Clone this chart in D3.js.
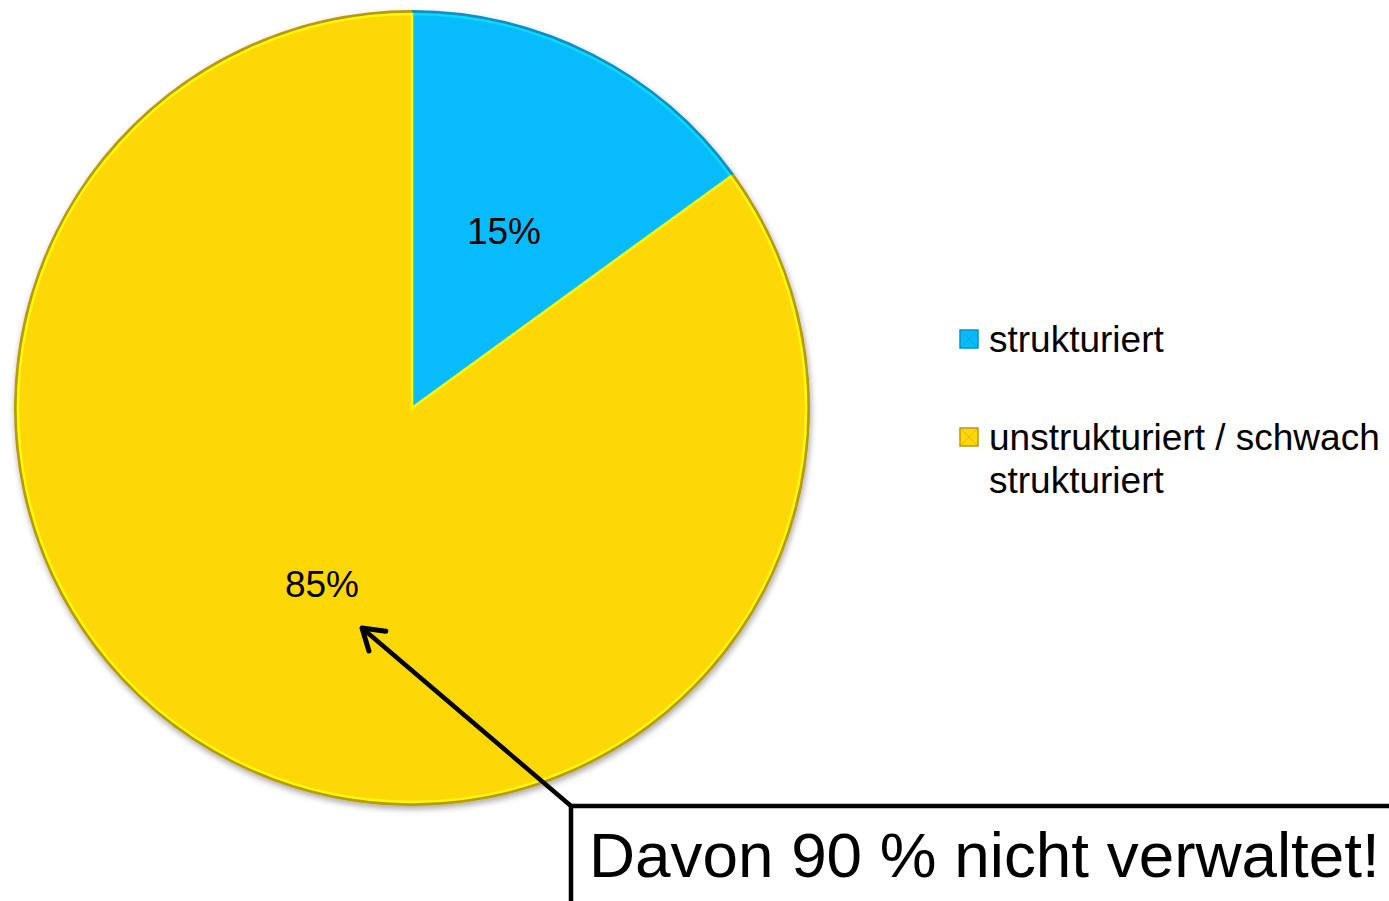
<!DOCTYPE html>
<html>
<head>
<meta charset="utf-8">
<script src="https://cdn.jsdelivr.net/npm/d3@7"></script>
<style>
  body { margin: 0; background: #fff; }
  svg { display: block; font-family: "Liberation Sans", Arial, sans-serif; }
</style>
</head>
<body>
<div id="chart"></div>
<script>
// chart data
const categories = ["strukturiert", "unstrukturiert / schwach strukturiert"];
const values = [15, 85];
const sliceLabels = ["15%", "85%"];
const legendLines = [["strukturiert"], ["unstrukturiert / schwach", "strukturiert"]];
const sliceColors = ["#08bcfb", "#fed806"];
const edgeColors = ["#0790c4", "#b99a10"];
const calloutText = "Davon 90 % nicht verwaltet!";

const width = 1389, height = 901;
const cx = 412, cy = 408, radius = 398;

const svg = d3.select("#chart").append("svg")
    .attr("width", width)
    .attr("height", height);

const defs = svg.append("defs");

// soft shadow under the pie
const shadow = defs.append("filter").attr("id", "shadow")
    .attr("x", "-10%").attr("y", "-10%").attr("width", "120%").attr("height", "120%");
shadow.append("feGaussianBlur").attr("in", "SourceAlpha").attr("stdDeviation", 3);
shadow.append("feOffset").attr("dx", 1).attr("dy", 3).attr("result", "blur");
shadow.append("feComponentTransfer").append("feFuncA").attr("type", "linear").attr("slope", 0.35);
const merge = shadow.append("feMerge");
merge.append("feMergeNode");
merge.append("feMergeNode").attr("in", "SourceGraphic");

const pie = d3.pie().sort(null).value(d => d);
const arcs = pie(values);

const arc = d3.arc().innerRadius(0).outerRadius(radius);
const bevelArc = d3.arc().innerRadius(0).outerRadius(radius - 4);

const g = svg.append("g")
    .attr("transform", `translate(${cx},${cy})`);

// slices
g.selectAll(".slice")
    .data(arcs)
    .enter().append("path")
    .attr("class", "slice")
    .attr("d", arc)
    .attr("fill", (d, i) => edgeColors[i])
    .attr("filter", "url(#shadow)");

// inner face (slight bevel look)
g.selectAll(".face")
    .data(arcs)
    .enter().append("path")
    .attr("class", "face")
    .attr("d", bevelArc)
    .attr("fill", (d, i) => sliceColors[i])
    .attr("stroke", (d, i) => d3.color(sliceColors[i]).brighter(0.4))
    .attr("stroke-width", 2.5);

// slice labels
const labelPos = [[92, -174], [-90, 179]];
g.selectAll(".slice-label")
    .data(arcs)
    .enter().append("text")
    .attr("class", "slice-label")
    .attr("x", (d, i) => labelPos[i][0])
    .attr("y", (d, i) => labelPos[i][1])
    .attr("text-anchor", "middle")
    .attr("dominant-baseline", "middle")
    .attr("font-size", 37)
    .attr("fill", "#000")
    .text((d, i) => sliceLabels[i]);

// legend
const legend = svg.append("g").attr("transform", "translate(960,0)");
const legendY = [339, 437];
const items = legend.selectAll(".legend-item")
    .data(categories)
    .enter().append("g")
    .attr("class", "legend-item")
    .attr("transform", (d, i) => `translate(0,${legendY[i]})`);

items.append("rect")
    .attr("x", 0).attr("y", -9)
    .attr("width", 18).attr("height", 18)
    .attr("fill", (d, i) => sliceColors[i])
    .attr("stroke", (d, i) => edgeColors[i])
    .attr("stroke-width", 1.5);

items.append("path")
    .attr("d", "M0,-9L9,0L18,-9M0,9L9,0L18,9")
    .attr("fill", "none")
    .attr("stroke", (d, i) => edgeColors[i])
    .attr("stroke-width", 0.8)
    .attr("opacity", 0.6);

items.each(function (d, i) {
    const t = d3.select(this).append("text")
        .attr("x", 29)
        .attr("y", 13)
        .attr("font-size", 37)
        .attr("fill", "#000");
    legendLines[i].forEach((line, j) => {
        t.append("tspan")
            .attr("x", 29)
            .attr("dy", j === 0 ? 0 : 43)
            .text(line);
    });
});

// callout arrow
const from = [571, 806], to = [362, 628];
const ang = Math.atan2(from[1] - to[1], from[0] - to[0]);
const headLen = 24, headSpread = Math.PI / 5.5;
const arm = a => [to[0] + headLen * Math.cos(ang + a), to[1] + headLen * Math.sin(ang + a)];

svg.append("line")
    .attr("x1", from[0]).attr("y1", from[1])
    .attr("x2", to[0]).attr("y2", to[1])
    .attr("stroke", "#000")
    .attr("stroke-width", 4.5);

svg.append("path")
    .attr("d", d3.line()([arm(-headSpread), to, arm(headSpread)]))
    .attr("fill", "none")
    .attr("stroke", "#000")
    .attr("stroke-width", 5)
    .attr("stroke-linecap", "round")
    .attr("stroke-linejoin", "round");

// callout box
svg.append("rect")
    .attr("x", 571).attr("y", 806)
    .attr("width", 830).attr("height", 120)
    .attr("fill", "#fff")
    .attr("stroke", "#000")
    .attr("stroke-width", 4.5);

svg.append("text")
    .attr("x", 589)
    .attr("y", 877)
    .attr("font-size", 63.8)
    .attr("fill", "#000")
    .text(calloutText);
</script>
</body>
</html>
